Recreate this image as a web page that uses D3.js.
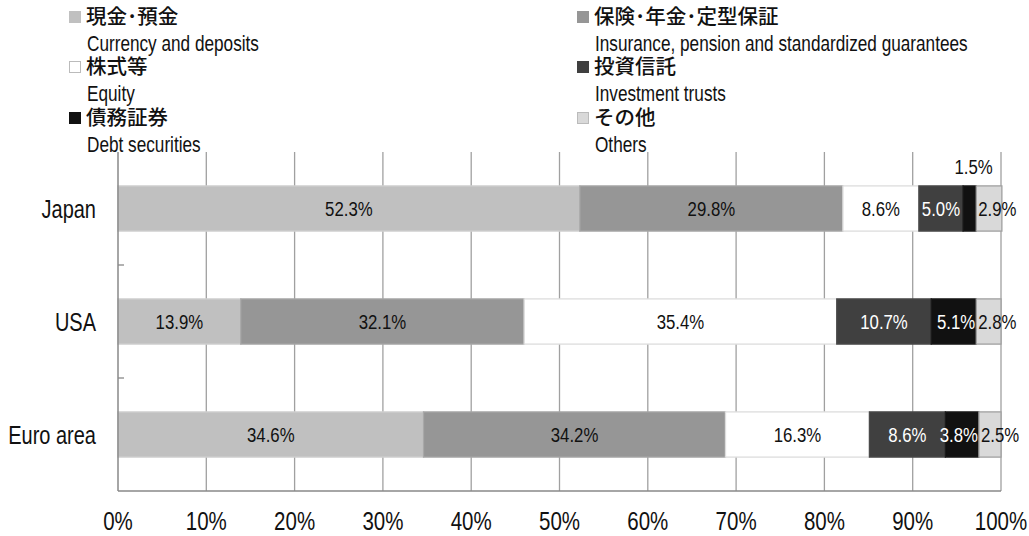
<!DOCTYPE html>
<html><head><meta charset="utf-8">
<script src="https://cdn.jsdelivr.net/npm/d3@7"></script>
<style>
body{margin:0;background:#fff;}
text{font-family:"Liberation Sans","Arial",sans-serif;}
</style></head><body>
<svg id="c" width="1029" height="536"></svg>
<script>
const categories = ["Japan","USA","Euro area"];
const seriesJa = ["現金･預金","保険･年金･定型保証","株式等","投資信託","債務証券","その他"];
const seriesEn = ["Currency and deposits","Insurance, pension and standardized guarantees","Equity","Investment trusts","Debt securities","Others"];
const currency = [52.3, 13.9, 34.6];
const insurance = [29.8, 32.1, 34.2];
const equity = [8.6, 35.4, 16.3];
const trusts = [5.0, 10.7, 8.6];
const debt = [1.5, 5.1, 3.8];
const others = [2.9, 2.8, 2.5];
const xTicks = [0,10,20,30,40,50,60,70,80,90,100];

const values = [currency, insurance, equity, trusts, debt, others];
const fills = ["#c0c0c0","#969696","#ffffff","#404040","#111111","#d9d9d9"];
const strokes = ["#d0d0d0","#a8a8a8","#dddddd","#4a4a4a","#1a1a1a","#a0a0a0"];
const labelColors = ["#111","#111","#111","#fff","#fff","#111"];

const svg = d3.select("#c");
const m = {l:118, r:1001, t:152, b:491};
const x = d3.scaleLinear().domain([0,100]).range([m.l, m.r]);
const y = d3.scaleBand().domain(categories).range([m.t, m.b]).paddingInner(0.6).paddingOuter(0.3);
const yb = d3.scaleBand().domain(categories).range([m.t, m.b]);

function ntext(sel, xv, yv, txt, size, anchor, color, sx){
  const gg = sel.append("g").attr("transform", `translate(${xv},${yv}) scale(${sx||0.82},1)`);
  gg.append("text").attr("x",0).attr("y",0).attr("dy","0.36em")
    .attr("text-anchor",anchor).attr("font-size",size).attr("fill",color).text(txt);
  return gg;
}

// gridlines
svg.append("g").selectAll("line").data(xTicks.slice(1)).join("line")
  .attr("x1", d=>x(d)).attr("x2", d=>x(d)).attr("y1", m.t).attr("y2", m.b)
  .attr("stroke","#a0a0a0").attr("stroke-width",1.3);

// stacked bars
const rows = categories.map((c,i)=>{ let acc=0; return values.map((s,k)=>{ const r={c, k, x0:acc, x1:acc+s[i], v:s[i]}; acc+=s[i]; return r; }); });
const g = svg.append("g");
const lab = svg.append("g");
rows.forEach(row=>{
  g.selectAll(null).data(row).join("rect")
    .attr("x", d=>x(d.x0)).attr("width", d=>x(d.x1)-x(d.x0))
    .attr("y", d=>y(d.c)).attr("height", y.bandwidth())
    .attr("fill", d=>fills[d.k]).attr("stroke", d=>strokes[d.k]).attr("stroke-width",1.3);
  row.forEach(d=>{
    const above = (d.c==="Japan" && d.k===4);
    const cy = above ? y(d.c)-19 : y(d.c)+y.bandwidth()/2;
    const col = above ? "#111" : labelColors[d.k];
    const txt = d.v.toFixed(1)+"%";
    if (d.k===5) ntext(lab, x(d.x0)+2, cy, txt, 21, "start", col, 0.8);
    else if (d.k===4 && !above) ntext(lab, x(d.x1)-1, cy, txt, 21, "end", col, 0.8);
    else ntext(lab, above ? (x(d.x0)+x(d.x1))/2+4 : (x(d.x0)+x(d.x1))/2, cy, txt, 21, "middle", col, 0.8);
  });
});

// axes
const ax = svg.append("g");
ax.append("line").attr("x1",m.l).attr("x2",m.l).attr("y1",m.t).attr("y2",m.b).attr("stroke","#888").attr("stroke-width",1.5);
ax.append("line").attr("x1",m.l).attr("x2",m.r).attr("y1",m.b).attr("y2",m.b).attr("stroke","#888").attr("stroke-width",1.5);
ax.selectAll(null).data(categories.slice(1)).join("line")
  .attr("x1",m.l).attr("x2",m.l+6).attr("y1",d=>yb(d)).attr("y2",d=>yb(d)).attr("stroke","#888").attr("stroke-width",1.3);
categories.forEach(c=> ntext(ax, 96, y(c)+y.bandwidth()/2, c, 25, "end", "#111", 0.8));
xTicks.forEach(t=> ntext(ax, x(t), 521, t+"%", 25, "middle", "#111", 0.82));

// legend
const lg = svg.append("g");
const legPos = [[69,17],[577,17],[69,67],[577,67],[69,118],[577,118]];
seriesJa.forEach((s,k)=>{
  const [lx,ly] = legPos[k];
  lg.append("rect").attr("x",lx+0.5).attr("y",ly-5.5).attr("width",11).attr("height",11)
    .attr("fill",fills[k]).attr("stroke", k===2||k===5 ? "#bbb" : fills[k]).attr("stroke-width",1);
  lg.append("text").attr("x",lx+17).attr("y",ly).attr("dy","0.36em")
    .attr("font-size",20.5).attr("fill","#111").attr("font-weight",500)
    .attr("style","font-family:'Noto Sans CJK JP',sans-serif").text(s);
  ntext(lg, lx+18, ly+26, seriesEn[k], 21.5, "start", "#111", 0.8);
});
</script>
</body></html>
